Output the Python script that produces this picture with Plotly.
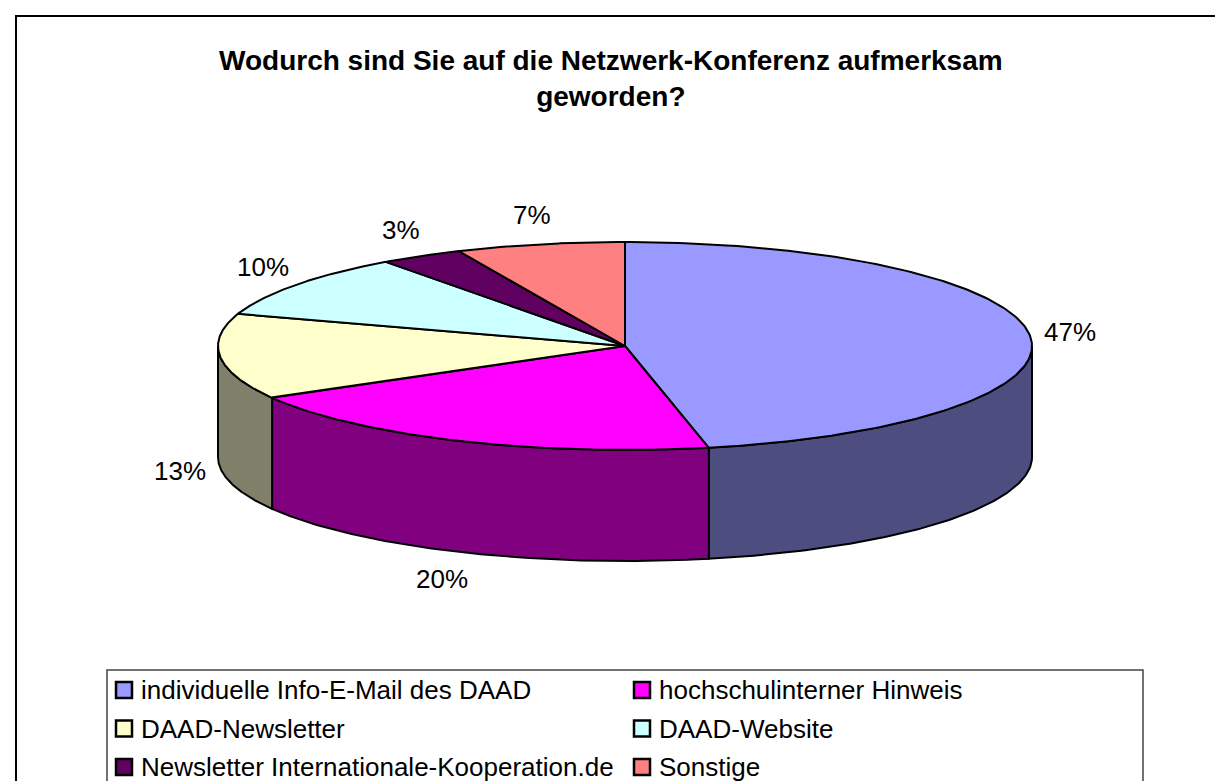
import numpy as np
import plotly.graph_objects as go

# ---------------- data ----------------
categories = [
    "individuelle Info-E-Mail des DAAD",
    "hochschulinterner Hinweis",
    "DAAD-Newsletter",
    "DAAD-Website",
    "Newsletter Internationale-Kooperation.de",
    "Sonstige",
]
shares = [46.7, 20.0, 13.3, 10.0, 3.3, 6.7]
top_colors = ["#9999FF", "#FF00FF", "#FFFFCC", "#CCFFFF", "#600060", "#FF8080"]
side_colors = ["#4D4D80", "#800080", "#80806A", "#668080", "#300030", "#804040"]
title_text = "Wodurch sind Sie auf die Netzwerk-Konferenz aufmerksam<br>geworden?"

# ---------------- geometry (pixel space) ----------------
W, H = 1223, 781
CX, CY, RX, RY, DEPTH = 617, 338, 407, 104, 111
FONT = "Arial, Liberation Sans, sans-serif"


def ell(theta_deg, dy=0.0):
    t = np.radians(theta_deg)
    return CX + RX * np.sin(t), CY - RY * np.cos(t) + dy


fig = go.Figure()
total = float(sum(shares))
bounds = np.concatenate([[0.0], np.cumsum(shares) / total * 360.0])

# side walls (front half only)
for i in range(len(shares)):
    a0, a1 = bounds[i], bounds[i + 1]
    s0, s1 = max(a0, 90.0), min(a1, 270.0)
    if s1 > s0:
        th = np.linspace(s0, s1, 120)
        xt, yt = ell(th)
        xb, yb = ell(th[::-1], DEPTH)
        xs = np.concatenate([xt, xb, xt[:1]])
        ys = np.concatenate([yt, yb, yt[:1]])
        fig.add_trace(go.Scatter(
            x=xs, y=ys, mode="lines", fill="toself",
            fillcolor=side_colors[i],
            line=dict(color="black", width=2),
            hoverinfo="skip", showlegend=False))

# top faces
for i in range(len(shares)):
    a0, a1 = bounds[i], bounds[i + 1]
    th = np.linspace(a0, a1, 200)
    xt, yt = ell(th)
    xs = np.concatenate([[CX], xt, [CX]])
    ys = np.concatenate([[CY], yt, [CY]])
    fig.add_trace(go.Scatter(
        x=xs, y=ys, mode="lines", fill="toself",
        fillcolor=top_colors[i],
        line=dict(color="black", width=2),
        hoverinfo="skip", showlegend=False))

# percentage labels
annotations = []
PADX, PADY = 40, 30
for i in range(len(shares)):
    mid = (bounds[i] + bounds[i + 1]) / 2.0
    t = np.radians(mid)
    lx = CX + (RX + PADX) * np.sin(t)
    ly = CY - (RY + PADY) * np.cos(t) + (DEPTH if np.cos(t) < 0 else 0)
    annotations.append(dict(
        x=lx, y=ly, xref="x", yref="y", showarrow=False,
        text=f"{round(shares[i] / total * 100):d}%",
        font=dict(family=FONT, size=26, color="black"),
        xanchor="center", yanchor="middle"))

# title
annotations.append(dict(
    x=603, y=70, xref="x", yref="y", showarrow=False,
    text=f"<b>{title_text}</b>",
    font=dict(family=FONT, size=28, color="black"),
    xanchor="center", yanchor="middle", align="center"))

# manual legend
LEG_X0, LEG_X1, LEG_Y0 = 99, 1135, 662
COL_X = [116, 634]
ROW_Y0, ROW_DY = 682, 38.5
for i, name in enumerate(categories):
    r, c = divmod(i, 2)
    mx = COL_X[c]
    my = ROW_Y0 + r * ROW_DY
    fig.add_trace(go.Scatter(
        x=[mx], y=[my], mode="markers",
        marker=dict(symbol="square", size=16, color=top_colors[i],
                    line=dict(color="black", width=2.5)),
        hoverinfo="skip", showlegend=False))
    annotations.append(dict(
        x=mx + 15, y=my, xref="x", yref="y", showarrow=False,
        text=name, font=dict(family=FONT, size=26, color="black"),
        xanchor="left", yanchor="middle"))

shapes = [
    dict(type="rect", xref="x", yref="y", x0=8, y0=8, x1=W + 20, y1=H + 20,
         line=dict(color="black", width=2), fillcolor="rgba(0,0,0,0)", layer="below"),
    dict(type="rect", xref="x", yref="y", x0=LEG_X0, y0=LEG_Y0, x1=LEG_X1, y1=H + 20,
         line=dict(color="#444444", width=1.5), fillcolor="rgba(0,0,0,0)", layer="below"),
]

fig.update_layout(
    width=W, height=H, autosize=False,
    margin=dict(l=0, r=0, t=0, b=0),
    paper_bgcolor="white", plot_bgcolor="white",
    xaxis=dict(range=[0, W], visible=False, fixedrange=True),
    yaxis=dict(range=[H, 0], visible=False, fixedrange=True),
    annotations=annotations, shapes=shapes, showlegend=False,
)

fig.write_html("out.html", config={"displayModeBar": False})
